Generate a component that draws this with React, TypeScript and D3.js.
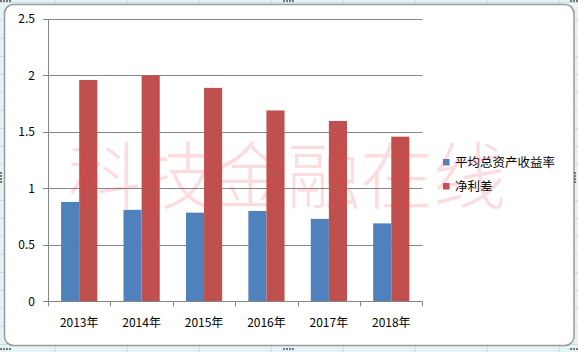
import React from "react";
import * as d3 from "d3";

const categories = ["2013年", "2014年", "2015年", "2016年", "2017年", "2018年"];
const seriesNames = ["平均总资产收益率", "净利差"];
const roaValues = [0.88, 0.81, 0.785, 0.8, 0.73, 0.69];
const nimValues = [1.96, 2.0, 1.89, 1.69, 1.597, 1.458];
const yTicks = [0, 0.5, 1, 1.5, 2, 2.5];
const colors = ["#4F81BD", "#C0504D"];
const watermark = "科技金融在线";

const W = 578;
const H = 352;
const FONT = "'Noto Sans CJK SC', 'DejaVu Sans', sans-serif";

export default function App() {
  const plot = { left: 48, right: 422.5, top: 19, bottom: 301.3 };
  const y = d3.scaleLinear().domain([0, 2.5]).range([plot.bottom, plot.top]);
  const x0 = d3
    .scaleBand<string>()
    .domain(categories)
    .range([plot.left, plot.right])
    .paddingInner(0)
    .paddingOuter(0);
  const groupW = x0.bandwidth() * 0.58;
  const x1 = d3
    .scaleBand<string>()
    .domain(seriesNames)
    .range([0, groupW]);
  const series = [roaValues, nimValues];

  const colLines = d3.range(-17, W, 72);
  const rowLines = d3.range(2, H, 18);

  return (
    <svg
      width={W}
      height={H}
      style={{ position: "absolute", left: 0, top: 0, display: "block" }}
      fontFamily={FONT}
    >
      {/* spreadsheet background */}
      <rect x={0} y={0} width={W} height={H} fill="#E4F3F5" />
      {colLines.map((cx) => (
        <line key={"c" + cx} x1={cx + 0.5} x2={cx + 0.5} y1={0} y2={H} stroke="#C9DDE2" strokeWidth={1} />
      ))}
      {rowLines.map((ry) => (
        <line key={"r" + ry} x1={0} x2={W} y1={ry + 0.5} y2={ry + 0.5} stroke="#C9DDE2" strokeWidth={1} />
      ))}
      {/* chart area */}
      <rect x={4.5} y={4.5} width={569.5} height={341} rx={9} ry={9} fill="#FFFFFF" stroke="#9A9A9A" strokeWidth={1.5} />

      {/* gridlines */}
      {yTicks.map((t) => (
        <line
          key={"g" + t}
          x1={plot.left}
          x2={plot.right}
          y1={Math.round(y(t)) + 0.5}
          y2={Math.round(y(t)) + 0.5}
          stroke="#868686"
          strokeWidth={1}
        />
      ))}
      {/* y axis */}
      <line x1={plot.left + 0.5} x2={plot.left + 0.5} y1={plot.top} y2={plot.bottom} stroke="#868686" />
      {yTicks.map((t) => (
        <line key={"yt" + t} x1={plot.left - 5} x2={plot.left} y1={Math.round(y(t)) + 0.5} y2={Math.round(y(t)) + 0.5} stroke="#868686" />
      ))}
      {yTicks.map((t) => (
        <text key={"yl" + t} x={35} y={y(t)} dy="0.35em" textAnchor="end" fontSize={12} fill="#000">
          {String(t)}
        </text>
      ))}

      {/* bars */}
      {categories.map((c, i) => {
        const gx = (x0(c) as number) + (x0.bandwidth() - groupW) / 2;
        return (
          <g key={c}>
            {seriesNames.map((s, si) => {
              const v = series[si][i];
              return (
                <rect
                  key={s}
                  x={gx + (x1(s) as number)}
                  y={y(v)}
                  width={x1.bandwidth()}
                  height={y(0) - y(v)}
                  fill={colors[si]}
                />
              );
            })}
          </g>
        );
      })}

      {/* x axis */}
      <line x1={plot.left} x2={plot.right} y1={Math.round(y(0)) + 0.5} y2={Math.round(y(0)) + 0.5} stroke="#868686" />
      {categories.map((c) => (
        <line
          key={"xt" + c}
          x1={Math.round(x0(c) as number) + 0.5}
          x2={Math.round(x0(c) as number) + 0.5}
          y1={plot.bottom}
          y2={plot.bottom + 5}
          stroke="#868686"
        />
      ))}
      <line x1={plot.right} x2={plot.right} y1={plot.bottom} y2={plot.bottom + 5} stroke="#868686" />
      {categories.map((c) => (
        <text
          key={"xl" + c}
          x={(x0(c) as number) + x0.bandwidth() / 2}
          y={323}
          dy="0.35em"
          textAnchor="middle"
          fontSize={12}
          fill="#000"
        >
          {c}
        </text>
      ))}

      {/* legend */}
      {seriesNames.map((s, i) => (
        <g key={"lg" + s} transform={`translate(443, ${159 + i * 24})`}>
          <rect x={0} y={0} width={6.5} height={6.5} fill={colors[i]} />
          <text x={12} y={3.5} dy="0.35em" fontSize={12.5} fill="#000">
            {s}
          </text>
        </g>
      ))}

      {/* watermark */}
      <text
        x={287}
        y={177}
        dy="0.35em"
        textAnchor="middle"
        fontSize={73}
        fontWeight={300}
        fill="rgba(242, 70, 85, 0.19)"
      >
        {watermark}
      </text>

      {/* selection handles */}
      {[
        [0, 0], [283, 0], [W - 8, 0],
        [0, 172], [W - 4, 172],
        [0, H - 4], [283, H - 4], [W - 8, H - 4],
      ].map(([hx, hy], i) => (
        <g key={"h" + i} fill="#777">
          {[0, 3, 6, 9].map((o) => (
            <rect key={o} x={hx + (i === 3 || i === 4 ? 0 : o)} y={hy + (i === 3 || i === 4 ? o : 0)} width={2} height={2} />
          ))}
        </g>
      ))}
    </svg>
  );
}
